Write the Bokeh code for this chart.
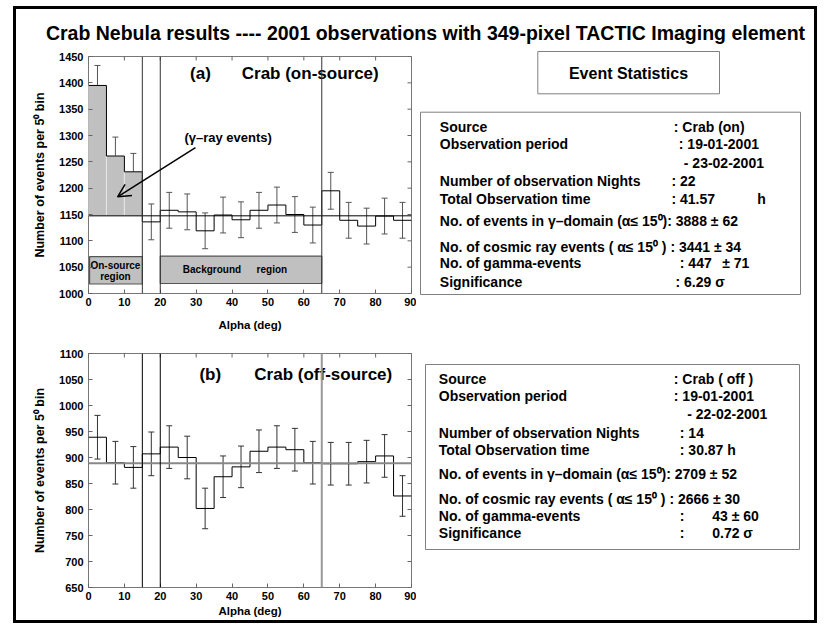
import numpy as np
from bokeh.plotting import figure
from bokeh.layouts import column, row
from bokeh.models import Range1d, Span, Arrow, OpenHead, FixedTicker, Plot
from bokeh.core.properties import value
from bokeh.embed import file_html
from bokeh.resources import INLINE

FONT = "Liberation Sans"

# ---------------- data ----------------
bin_edges = list(range(0, 95, 5))          # alpha bins, 5 deg wide
x_ticks = list(range(0, 91, 10))
on_counts = [1395, 1261, 1231, 1136, 1158, 1155, 1119, 1149, 1140,
             1158, 1168, 1150, 1130, 1195, 1139, 1128, 1147, 1139]
on_errors = [38, 36, 35, 34, 34, 34, 34, 34, 34,
             34, 34, 34, 34, 35, 34, 34, 34, 34]
on_background = 1147.5
off_counts = [939, 890, 881, 907, 920, 900, 802, 863, 882,
              912, 920, 915, 890, 888, 888, 892, 903, 826]
off_errors = [42, 41, 40, 42, 41, 41, 39, 40, 40,
              41, 41, 41, 41, 41, 41, 41, 41, 39]
off_background = 889
on_source_region = [0, 15]
background_region = [20, 65]
on_y_ticks = list(range(1000, 1451, 50))
off_y_ticks = list(range(650, 1101, 50))

title_text = "Crab Nebula results ---- 2001 observations with 349-pixel TACTIC Imaging element"
on_labels = ["Source", "Observation period", "Number of observation Nights",
             "Total Observation time",
             "No. of events in  \u03b3\u2013domain (\u03b1\u2264 15\u2070): 3888 \u00b1 62",
             "No. of cosmic ray events ( \u03b1\u2264 15\u2070 ) : 3441 \u00b1 34",
             "No. of gamma-events", "Significance"]
on_values = [": Crab (on)", ":  19-01-2001", "- 23-02-2001", ": 22", ": 41.57",
             "h", ": 447", "\u00b1 71", ": 6.29 \u03c3"]
off_labels = ["Source", "Observation period", "Number of observation Nights",
              "Total Observation time",
              "No. of events in  \u03b3\u2013domain (\u03b1\u2264 15\u2070): 2709 \u00b1 52",
              "No. of cosmic ray events ( \u03b1\u2264 15\u2070 ) : 2666 \u00b1 30",
              "No. of gamma-events", "Significance"]
off_values = [":  Crab  ( off )", ":  19-01-2001", "- 22-02-2001", ": 14", ": 30.87 h",
              ":", "43 \u00b1 60", ":", "0.72 \u03c3"]

HAS_FRAME_ALIGN = "frame_align" in Plot.properties()


def no_align(p):
    if HAS_FRAME_ALIGN:
        p.frame_align = False


def style_axes(p, xticks, yticks, xlab_standoff, xmax, ymax):
    p.grid.visible = False
    p.outline_line_color = "#777777"
    p.xaxis.ticker = FixedTicker(ticks=xticks)
    p.yaxis.ticker = FixedTicker(ticks=yticks)
    for ax in p.xaxis + p.yaxis:
        ax.axis_line_color = None
        ax.major_tick_in = 4
        ax.major_tick_out = 0
        ax.minor_tick_line_color = None
        ax.major_tick_line_color = "#666666"
        ax.major_label_text_font = FONT
        ax.major_label_text_font_style = "bold"
        ax.major_label_text_font_size = "11px"
        ax.major_label_text_color = "black"
        ax.axis_label_text_font = FONT
        ax.axis_label_text_font_style = "bold"
        ax.axis_label_text_color = "black"
    p.xaxis.major_label_standoff = 4
    p.yaxis.major_label_standoff = 5
    p.xaxis.axis_label = "Alpha (deg)"
    p.xaxis.axis_label_text_font_size = "11.5px"
    p.xaxis.axis_label_standoff = xlab_standoff
    p.yaxis.axis_label = "Number of events per 5\u2070 bin"
    p.yaxis.axis_label_text_font_size = "12.5px"
    p.yaxis.axis_label_standoff = 9
    # mirrored inward ticks on the top and right frame edges
    p.scatter(x=[xmax] * len(yticks), y=yticks, marker="dash", size=8,
              line_color="#666666", line_width=1)
    p.scatter(x=xticks, y=[ymax] * len(xticks), marker="dash", size=8, angle=np.pi / 2,
              line_color="#666666", line_width=1)


def step_xy(edges, vals):
    xs, ys = [], []
    for i, v in enumerate(vals):
        xs += [edges[i], edges[i + 1]]
        ys += [v, v]
    return xs, ys


def errorbars(p, edges, vals, errs, color):
    centers = [(edges[i] + edges[i + 1]) / 2 for i in range(len(vals))]
    lo = [v - e for v, e in zip(vals, errs)]
    hi = [v + e for v, e in zip(vals, errs)]
    p.segment(x0=centers, y0=lo, x1=centers, y1=hi, line_color=color, line_width=1)
    p.scatter(x=centers + centers, y=lo + hi, marker="dash", size=6, line_color=color, line_width=1)


# ---------------- chart (a) ----------------
pa = figure(width=400, height=288, x_range=Range1d(0, 90), y_range=Range1d(1000, 1450),
            output_backend="svg", toolbar_location=None,
            min_border_left=72, min_border_right=5, min_border_top=11, min_border_bottom=40)
no_align(pa)
style_axes(pa, x_ticks, on_y_ticks, 10, 90, 1450)
errorbars(pa, bin_edges, on_counts, on_errors, "#555555")
n_on = 3
pa.quad(left=bin_edges[:n_on], right=bin_edges[1:n_on + 1], bottom=on_background,
        top=on_counts[:n_on], fill_color="#c0c0c0", line_color="#e6e6e6", line_width=1)
sx, sy = step_xy(bin_edges, on_counts)
pa.line(sx, sy, line_color="black", line_width=1)
pa.add_layout(Span(location=on_background, dimension="width", line_color="black", line_width=1))
for loc in (on_source_region[1], background_region[0], background_region[1]):
    pa.add_layout(Span(location=loc, dimension="height", line_color="#333333", line_width=1))
pa.quad(left=[on_source_region[0] + 0.3, background_region[0]],
        right=[on_source_region[1], background_region[1]],
        bottom=[1018, 1019], top=[1070, 1071],
        fill_color="#c0c0c0", line_color="#555555", line_width=1.2)
pa.text(x=[7.5, 7.5, 34.4, 51.1], y=[1054, 1032, 1045, 1045],
        text=["On-source", "region", "Background", "region"],
        text_font=value(FONT), text_font_style="bold", text_font_size="10px",
        text_align="center", text_baseline="middle", text_color="black")
pa.text(x=[28.3, 42.7], y=[1417, 1417], text=["(a)", "Crab  (on-source)"],
        text_font=value(FONT), text_font_style="bold", text_font_size="17px",
        text_align="left", text_baseline="middle", text_color="black")
pa.text(x=[38.9], y=[1297], text=["(\u03b3\u2013ray events)"],
        text_font=value(FONT), text_font_style="bold", text_font_size="13px",
        text_align="center", text_baseline="middle", text_color="black")
pa.add_layout(Arrow(end=OpenHead(size=13, line_width=1.5, line_color="black"),
                    x_start=29.8, y_start=1277, x_end=8.1, y_end=1183.5,
                    line_width=1.5, line_color="black"))

# ---------------- chart (b) ----------------
pb = figure(width=400, height=287, x_range=Range1d(0, 90), y_range=Range1d(650, 1100),
            output_backend="svg", toolbar_location=None,
            min_border_left=72, min_border_right=5, min_border_top=20, min_border_bottom=33)
no_align(pb)
style_axes(pb, x_ticks, off_y_ticks, 2, 90, 1100)
errorbars(pb, bin_edges, off_counts, off_errors, "#333333")
sx, sy = step_xy(bin_edges, off_counts)
pb.line(sx, sy, line_color="black", line_width=1)
pb.add_layout(Span(location=off_background, dimension="width", line_color="#888888", line_width=2))
pb.add_layout(Span(location=on_source_region[1], dimension="height", line_color="black", line_width=1))
pb.add_layout(Span(location=background_region[0], dimension="height", line_color="black", line_width=1))
pb.add_layout(Span(location=background_region[1], dimension="height", line_color="#999999", line_width=2))
pb.text(x=[30.9, 46.2], y=[1060, 1060], text=["(b)", "Crab  (off-source)"],
        text_font=value(FONT), text_font_style="bold", text_font_size="17px",
        text_align="left", text_baseline="middle", text_color="black")


# ---------------- panels ----------------
def panel(w, h):
    p = figure(width=w, height=h, x_range=Range1d(0, w), y_range=Range1d(h, 0),
               output_backend="svg", toolbar_location=None, min_border=0,
               x_axis_location=None, y_axis_location=None)
    no_align(p)
    p.grid.visible = False
    p.outline_line_color = None
    return p


def txt(p, xs, ys, texts, size="14px", align="left"):
    p.text(x=xs, y=ys, text=texts, text_font=value(FONT), text_font_style="bold",
           text_font_size=size, text_align=align, text_baseline="middle", text_color="black")


title_fig = panel(798, 36)
txt(title_fig, [409], [23], [title_text], size="19.5px", align="center")

qa = panel(398, 288)
qa.quad(left=[121.3], right=[303], top=[6], bottom=[48.3], fill_color="white",
        line_color="#808080", line_width=1)
txt(qa, [212], [27.7], ["Event Statistics"], size="16px", align="center")
qa.quad(left=[4], right=[384], top=[66.7], bottom=[249], fill_color="white",
        line_color="#808080", line_width=1)
ya_lab = [81.7, 98.3, 135, 153.3, 175, 201.7, 217.7, 236]
txt(qa, [23.3] * 8, ya_lab, on_labels)
txt(qa, [257.3, 262.3, 267.3, 255, 255, 340.7, 263.3, 305.7, 259],
    [81.7, 98.3, 117.3, 135, 153.3, 153.3, 217.7, 217.7, 236], on_values)

qb = panel(398, 287)
qb.quad(left=[9], right=[383], top=[31], bottom=[216], fill_color="white",
        line_color="#808080", line_width=1)
yb_lab = [45.3, 62, 99.7, 116.3, 140.3, 165.3, 182, 199.7]
txt(qb, [22.3] * 8, yb_lab, off_labels)
txt(qb, [257.3, 257.3, 270.7, 263.3, 263.3, 263.3, 295.7, 263.3, 295.7],
    [45.3, 62, 80.3, 99.7, 116.3, 182, 182, 199.7, 199.7], off_values)

layout = column(title_fig, row(pa, qa, spacing=0), row(pb, qb, spacing=0), spacing=0,
                styles={"border": "3px solid black"}, margin=(6, 0, 0, 13))

open("out.html", "w").write(file_html(layout, INLINE))
